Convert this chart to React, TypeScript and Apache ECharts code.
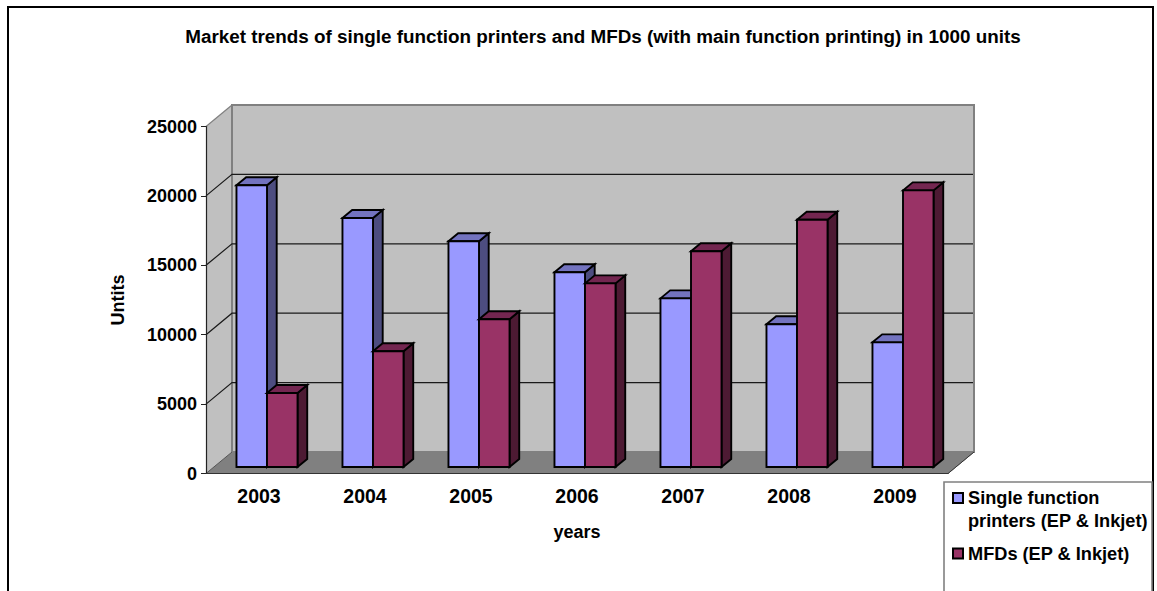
import React, { useEffect, useRef } from "react";
import * as echarts from "echarts";

const years = ["2003", "2004", "2005", "2006", "2007", "2008", "2009"];
const singleFunction = [20300, 17940, 16260, 14030, 12150, 10280, 8980];
const mfds = [5330, 8335, 10640, 13230, 15540, 17810, 19930];
const yTicks = [0, 5000, 10000, 15000, 20000, 25000];
const titleText = "Market trends of single function printers and MFDs (with main function printing) in 1000 units";
const singleName = "Single function\nprinters (EP & Inkjet)";
const mfdName = "MFDs (EP & Inkjet)";

const FONT = "'Liberation Sans', Arial, sans-serif";
const WALL_DX = 26;
const WALL_DY = 21.5;
const BAR_DX = 8;
const BAR_DY = 6.5;
const DEPTH_DX = 9.7;
const DEPTH_DY = 8;
const BAR_RATIO = 0.288;

function wallItem(_p: any, api: any) {
  const band = api.size([1, 0])[0];
  const x0 = api.coord([0, 0])[0] - band / 2;
  const x1 = api.coord([years.length - 1, 0])[0] + band / 2;
  const y0 = api.coord([0, 0])[1];
  const yTop = api.coord([0, yTicks[yTicks.length - 1]])[1];
  const wallStyle = { fill: "#c0c0c0", stroke: "#808080", lineWidth: 2 };
  const children: any[] = [
    { type: "polygon", shape: { points: [[x0, y0], [x0 + WALL_DX, y0 - WALL_DY], [x1 + WALL_DX, y0 - WALL_DY], [x1, y0]] }, style: { fill: "#808080", stroke: "#808080", lineWidth: 1 } },
    { type: "polygon", shape: { points: [[x0, y0], [x0 + WALL_DX, y0 - WALL_DY], [x0 + WALL_DX, yTop - WALL_DY], [x0, yTop]] }, style: { fill: "#c0c0c0", stroke: "none" } },
    { type: "rect", shape: { x: x0 + WALL_DX, y: yTop - WALL_DY, width: x1 - x0, height: y0 - yTop }, style: wallStyle },
    { type: "line", shape: { x1: x0, y1: yTop, x2: x0 + WALL_DX, y2: yTop - WALL_DY }, style: { stroke: "#808080", lineWidth: 1.2 } },
    { type: "line", shape: { x1: x1, y1: y0, x2: x1 + WALL_DX, y2: y0 - WALL_DY }, style: { stroke: "#333333", lineWidth: 1 } },
  ];
  yTicks.slice(1, -1).forEach((t) => {
    const y = api.coord([0, t])[1];
    children.push({
      type: "polyline",
      shape: { points: [[x0, y], [x0 + WALL_DX, y - WALL_DY], [x1 + WALL_DX - 1, y - WALL_DY]] },
      style: { fill: "none", stroke: "#1a1a1a", lineWidth: 1.2 },
    });
  });
  children.push({ type: "line", shape: { x1: x0, y1: y0, x2: x0 + WALL_DX, y2: y0 - WALL_DY }, style: { stroke: "#555555", lineWidth: 1 } });
  return { type: "group", children };
}

function barRenderer(slot: number, front: string, top: string, side: string) {
  return (_p: any, api: any) => {
    const c = api.coord([api.value(0), api.value(1)]);
    const base = api.coord([api.value(0), 0]);
    const w = api.size([1, 0])[0] * BAR_RATIO;
    const xl = c[0] + BAR_DX - w + slot * w;
    const xr = xl + w;
    const yt = c[1] - BAR_DY;
    const yb = base[1] - BAR_DY;
    const edge = { stroke: "#000000", lineWidth: 1.9, lineJoin: "miter" };
    return {
      type: "group",
      children: [
        { type: "polygon", shape: { points: [[xr, yt], [xr + DEPTH_DX, yt - DEPTH_DY], [xr + DEPTH_DX, yb - DEPTH_DY], [xr, yb]] }, style: { fill: side, ...edge } },
        { type: "polygon", shape: { points: [[xl, yt], [xl + DEPTH_DX, yt - DEPTH_DY], [xr + DEPTH_DX, yt - DEPTH_DY], [xr, yt]] }, style: { fill: top, ...edge } },
        { type: "rect", shape: { x: xl, y: yt, width: w, height: yb - yt }, style: { fill: front, ...edge } },
      ],
    };
  };
}

export default function App() {
  const ref = useRef<HTMLDivElement>(null);
  useEffect(() => {
    document.body.style.margin = "0";
    const chart = echarts.init(ref.current!, null, { renderer: "svg" });
    const nameStyle = { fontFamily: FONT, fontWeight: "bold" as const, fontSize: 18, color: "#000" };
    chart.setOption({
      animation: false,
      backgroundColor: "#ffffff",
      title: {
        text: titleText,
        left: 598,
        textAlign: "center",
        top: 22,
        textStyle: { fontFamily: FONT, fontWeight: "bold", fontSize: 18.85, color: "#000" },
      },
      grid: { left: 206, right: 209, top: 126.5, bottom: 117.5, containLabel: false },
      xAxis: {
        type: "category",
        data: years,
        name: "years",
        nameLocation: "middle",
        nameGap: 49,
        nameTextStyle: nameStyle,
        z: 3,
        axisLine: { lineStyle: { color: "#333", width: 1.2 } },
        axisTick: { length: 5, lineStyle: { color: "#333" }, alignWithLabel: false },
        axisLabel: { fontFamily: FONT, fontWeight: "bold", fontSize: 19.5, color: "#000", margin: 12, },
        splitLine: { show: false },
      },
      yAxis: {
        type: "value",
        min: 0,
        max: 25000,
        interval: 5000,
        name: "Untits",
        nameLocation: "middle",
        nameRotate: 90,
        nameGap: 79,
        nameTextStyle: nameStyle,
        z: 3,
        axisLine: { show: true, lineStyle: { color: "#222", width: 1.2 } },
        axisTick: { show: true, length: 5, lineStyle: { color: "#222" } },
        axisLabel: { fontFamily: FONT, fontWeight: "bold", fontSize: 18, color: "#000", margin: 9, formatter: (v: number) => String(v) },
        splitLine: { show: false },
      },
      legend: {
        data: [singleName, mfdName],
        orient: "vertical",
        left: 947,
        top: 458.5,
        height: 130,
        icon: "rect",
        itemWidth: 10,
        itemHeight: 10,
        itemGap: 9.5,
        z: 6,
        selectedMode: false,
        formatter: (name: string) => (name === singleName ? "\n" + name : name),
        textStyle: { fontFamily: FONT, fontWeight: "bold", fontSize: 18.2, color: "#000", lineHeight: 23 },
      },
      graphic: [
        { type: "rect", z: 5, shape: { x: 8, y: 7, width: 1145, height: 700 }, style: { fill: "none", stroke: "#000", lineWidth: 2 } },
        { type: "rect", z: 5, shape: { x: 944, y: 482, width: 208, height: 200 }, style: { fill: "#fff", stroke: "#808080", lineWidth: 1.6 } },
      ],
      series: [
        { type: "custom", name: "walls", z: 1, silent: true, data: [[0, 0]], renderItem: wallItem },
        {
          type: "custom",
          name: singleName,
          z: 2,
          data: singleFunction.map((v, i) => [i, v]),
          itemStyle: { color: "#9999ff", borderColor: "#000", borderWidth: 1 },
          encode: { x: 0, y: 1 },
          renderItem: barRenderer(0, "#9999ff", "#7373bf", "#4d4d80"),
        },
        {
          type: "custom",
          name: mfdName,
          z: 2,
          data: mfds.map((v, i) => [i, v]),
          itemStyle: { color: "#993366", borderColor: "#000", borderWidth: 1 },
          encode: { x: 0, y: 1 },
          renderItem: barRenderer(1, "#993366", "#732650", "#4d1a33"),
        },
      ],
    });
    return () => chart.dispose();
  }, []);
  return <div ref={ref} style={{ position: "absolute", left: 0, top: 0, width: 1157, height: 591 }} />;
}
